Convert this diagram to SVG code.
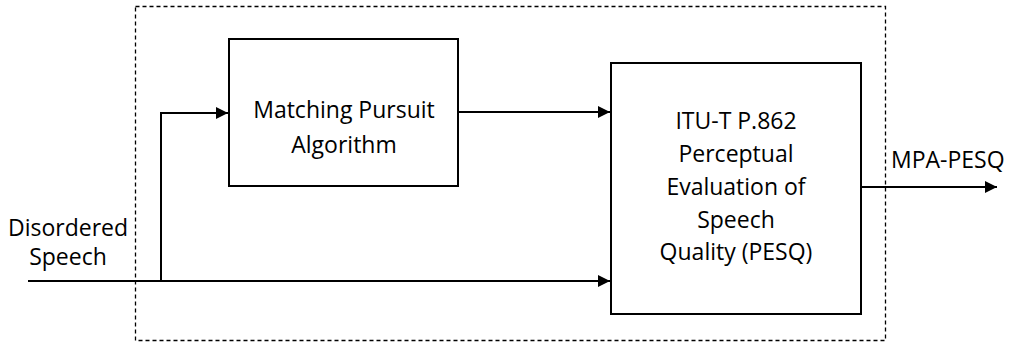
<svg xmlns="http://www.w3.org/2000/svg" width="1011" height="343" viewBox="0 0 1011 343">
  <style>
    .box { fill: #ffffff; stroke: #000000; stroke-width: 2; }
    .frame { fill: none; stroke: #000000; stroke-width: 1.3; stroke-dasharray: 4 3; }
    .wire { fill: none; stroke: #000000; stroke-width: 2; }
    .label { font-family: "Open Sans", "Liberation Sans", sans-serif; font-size: 23px; fill: #000000; }
  </style>
  <defs>
    <marker id="arrow" viewBox="0 0 10 10" refX="10" refY="5" markerWidth="14" markerHeight="12" markerUnits="userSpaceOnUse" orient="auto">
      <path d="M0,0 L10,5 L0,10 Z" fill="#000000"/>
    </marker>
  </defs>

  <!-- dashed system boundary -->
  <rect id="system-boundary" class="frame" x="135.5" y="6.5" width="750" height="334"/>

  <!-- connectors -->
  <g id="connectors">
    <path class="wire" d="M28,281 L610,281" marker-end="url(#arrow)"/>
    <path class="wire" d="M161,281 L161,113 L228,113" marker-end="url(#arrow)"/>
    <path class="wire" d="M458,112 L610,112" marker-end="url(#arrow)"/>
    <path class="wire" d="M861,187 L997,187" marker-end="url(#arrow)"/>
  </g>

  <!-- input label -->
  <g id="input-label">
    <text class="label" x="68" y="236" text-anchor="middle">Disordered</text>
    <text class="label" x="68" y="265" text-anchor="middle">Speech</text>
  </g>

  <!-- matching pursuit block -->
  <g id="matching-pursuit">
    <rect class="box" x="229" y="39" width="229" height="147"/>
    <text class="label" x="344" y="118" text-anchor="middle">Matching Pursuit</text>
    <text class="label" x="344" y="153" text-anchor="middle">Algorithm</text>
  </g>

  <!-- PESQ block -->
  <g id="pesq">
    <rect class="box" x="611" y="63" width="250" height="251"/>
    <text class="label" x="736" y="129" text-anchor="middle">ITU-T P.862</text>
    <text class="label" x="736" y="162" text-anchor="middle">Perceptual</text>
    <text class="label" x="736" y="195" text-anchor="middle">Evaluation of</text>
    <text class="label" x="736" y="228" text-anchor="middle">Speech</text>
    <text class="label" x="736" y="260" text-anchor="middle">Quality (PESQ)</text>
  </g>

  <!-- output label -->
  <g id="output-label">
    <text class="label" x="891" y="168">MPA-PESQ</text>
  </g>
</svg>
